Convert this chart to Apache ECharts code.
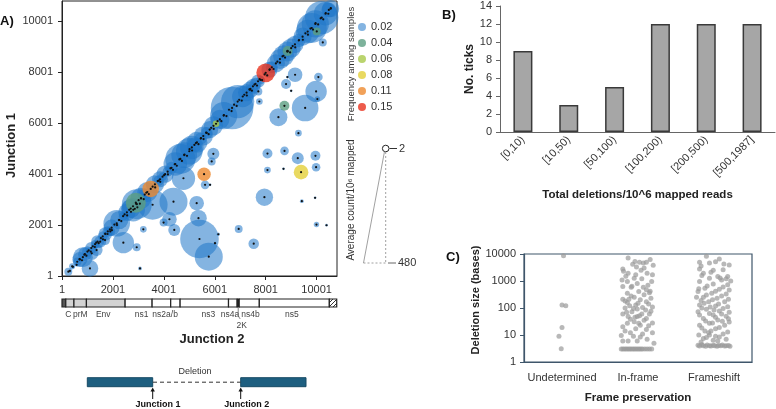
<!DOCTYPE html>
<html><head><meta charset="utf-8">
<script src="https://cdn.jsdelivr.net/npm/echarts@6/dist/echarts.min.js"></script>
<style>html,body{margin:0;padding:0;background:#fff}#c{width:776px;height:409px}</style>
</head><body><div id="c"></div>
<script>
// ---------- Panel A data ----------
const FREQS = ['0.02','0.04','0.06','0.08','0.11','0.15'];
const FREQ_COLORS = ['#1f77c9','#5c9f82','#a9c94a','#e3cf3a','#ee8a30','#e8321e'];
// [junction 2, junction 1, average count / 10^6 mapped, frequency class index]
const DELETIONS = [
 [250,170,17,0],[820,740,108,0],[1100,300,75,0],[1170,890,49,0],[1360,1020,39,0],[1500,1350,39,0],
 [1690,1410,27,0],[2150,2070,192,0],[2410,1310,124,0],[2935,1130,17,0],[3195,1835,12,0],[3065,300,4,0],
 [2940,2820,244,0],[3560,2800,244,0],[2800,2600,148,0],[1900,1750,25,0],[4380,2920,213,0],[4220,2230,58,0],
 [3990,2100,17,0],[4410,1810,39,0],[5290,2860,58,0],[5360,2270,75,0],[5400,1455,404,0],[5765,760,213,0],
 [6140,1640,3,0],[6010,1290,2,0],[6940,1850,17,0],[7530,1270,30,0],[5880,4500,17,0],[5945,4800,39,0],
 [5620,3580,20,0],[5815,3580,2,0],[4770,3840,148,0],[7950,3095,82,0],[8070,4810,27,0],[8070,4160,12,0],
 [8740,4915,20,0],[8700,4210,2,0],[9260,4630,39,0],[9955,4720,27,0],[9980,4275,20,0],[9420,2940,4,0],
 [9940,3070,2,0],[9995,2020,8,0],[10390,1995,2,0],[9155,7904,58,0],[8853,7814,2,0],[10070,7814,20,0],
 [8800,7540,27,0],[9000,7275,2,0],[9980,7250,124,0],[10030,6950,8,0],[9550,6600,192,0],[8500,6240,88,0],
 [9286,5610,12,0],[7713,7248,17,0],[7752,6854,12,0],[7387,7315,75,0],[6680,6600,492,0],[6200,6150,100,0],
 [7100,7050,124,0],[5685,5620,39,0],[5450,5400,39,0],[5200,5150,60,0],[5000,4900,192,0],[4650,4600,244,0],
 [4150,4100,27,0],[4300,4250,40,0],[3250,3200,40,0],[3800,3750,30,0],[3950,3900,20,0],[2400,2350,20,0],
 [1800,1750,30,0],[1600,1560,25,0],[1300,1250,20,0],[1000,960,30,0],[600,560,20,0],[400,380,10,0],
 [7600,7550,39,0],[8240,8200,39,0],[8560,8520,108,0],[8850,8820,108,0],[9300,9250,49,0],[9810,9740,244,0],
 [10200,10150,302,0],[10480,10450,60,0],[10243,9174,17,0],[7400,7350,20,0],[7800,7700,20,0],
 [700,650,60,0],[900,860,50,0],[1150,1100,40,0],[1400,1350,45,0],[1700,1650,50,0],[1950,1900,70,0],
 [2250,2200,90,0],[2550,2500,80,0],[2700,2650,100,0],[3100,3050,120,0],[3350,3300,110,0],[3650,3600,90,0],
 [3850,3800,70,0],[4050,4000,80,0],[4450,4400,150,0],[4800,4750,180,0],[5100,5050,150,0],[5300,5250,120,0],
 [5550,5500,100,0],[5800,5750,80,0],[5950,5900,100,0],[6350,6300,200,0],[6900,6850,300,0],[7250,7200,80,0],
 [7500,7450,60,0],[7700,7650,50,0],[8150,8100,70,0],[8400,8350,90,0],[8700,8650,120,0],[9000,8950,100,0],
 [9150,9100,80,0],[9450,9400,90,0],[9650,9600,150,0],[9950,9900,200,0],[10350,10300,150,0],[10550,10500,80,0],
 [2900,2880,108,1],[8860,8840,27,1],[10006,9607,17,1],[8736,6685,27,1],
 [6050,5980,12,2],
 [9390,4080,58,3],
 [3485,3420,75,4],[5580,4000,49,4],
 [8000,7980,95,5]
];
// small deletions close to the diagonal: [junction 2, junction 1, count, class]
const SMALL_DELETIONS = [
 [310,200,3,0],[430,360,3,0],[575,440,3,0],[690,660,3,0],[785,620,3,0],[880,840,3,0],[960,800,3,0],
 [1050,1010,3,0],[1130,960,3,0],[1210,1170,3,0],[1290,1140,3,0],[1345,1310,3,0],[1440,1290,3,0],
 [1530,1490,3,0],[1610,1440,3,0],[1700,1670,3,0],[1790,1650,3,0],[1880,1830,3,0],[1960,1800,3,0],
 [2060,2020,3,0],[2160,2000,3,0],[2240,2200,3,0],[2330,2160,3,0],[2460,2420,3,0],[2560,2380,3,0],
 [2640,2600,3,0],[2710,2520,3,0],[2790,2740,3,0],[2860,2640,3,0],[2910,2840,3,0],[2960,2700,3,0],
 [3010,2980,3,0],[3060,2840,3,0],[3110,3050,3,0],[3210,3020,3,0],[3310,3270,3,0],[3410,3220,3,0],
 [3560,3510,3,0],[3660,3480,3,0],[3760,3730,3,0],[3860,3700,3,0],[4010,3960,3,0],[4160,3990,3,0],
 [4260,4230,3,0],[4360,4170,3,0],[4430,4390,3,0],[4510,4330,3,0],[4610,4580,3,0],[4710,4520,3,0],
 [4810,4770,3,0],[4910,4720,3,0],[5010,4980,3,0],[5110,4930,3,0],[5260,5220,3,0],[5360,5180,3,0],
 [5460,5420,3,0],[5560,5380,3,0],[5660,5630,3,0],[5760,5570,3,0],[5860,5820,3,0],[5960,5780,3,0],
 [6110,6080,3,0],[6260,6080,3,0],[6360,6320,3,0],[6460,6280,3,0],[6560,6530,3,0],[6660,6480,3,0],
 [6760,6730,3,0],[6860,6680,3,0],[6960,6920,3,0],[7060,6890,3,0],[7160,7120,3,0],[7260,7090,3,0],
 [7360,7330,3,0],[7460,7280,3,0],[7560,7520,3,0],[7660,7480,3,0],[7760,7730,3,0],[7860,7690,3,0],
 [7960,7920,3,0],[8060,7880,3,0],[8160,8120,3,0],[8310,8130,3,0],[8460,8420,3,0],[8560,8380,3,0],
 [8660,8630,3,0],[8760,8580,3,0],[8860,8820,3,0],[8960,8780,3,0],[9060,9030,3,0],[9160,8980,3,0],
 [9310,9270,3,0],[9460,9280,3,0],[9560,9530,3,0],[9660,9480,3,0],[9760,9720,3,0],[9860,9680,3,0],
 [9960,9930,3,0],[10060,9880,3,0],[10160,10120,3,0],[10260,10080,3,0],[10360,10330,3,0],
 [10460,10300,3,0],[10560,10520,3,0]
];
// genome map (position along genome)
const GENE_NAMES = ['5UTR','C','prM','Env','ns1','ns2a','ns2b','ns3','ns4a','2K','ns4b','ns5','3UTR'];
const GENE_START = [1,150,470,960,2480,3540,4270,4640,6540,6880,6960,7750,10500];
const GENE_END   = [150,470,960,2480,3540,4270,4640,6540,6880,6960,7750,10500,10790];
const GENE_KIND  = ['utr5','struct','struct','struct','ns','ns','ns','ns','ns','2k','ns','ns','utr3'];
const GENE_LABELS = ['C','prM','Env','ns1','ns2a/b','ns3','ns4a','ns4b','ns5','2K'];
const GENE_LABEL_AT = [250,720,1620,3130,4050,5750,6600,7400,9030,7060];
const GENE_LABEL_ROW = [0,0,0,0,0,0,0,0,0,1];
const SIZE_LEGEND = [2, 480];

// ---------- Panel B data ----------
const BIN_LABELS = ['[0,10)','[10,50)','[50,100)','[100,200)','[200,500)','[500,1987]'];
const TICK_COUNTS = [9,3,5,12,12,12];

// ---------- Panel C data ----------
const FRAME_CATS = ['Undetermined','In-frame','Frameshift'];
// [jitter position, deletion size]
const UNDET_PTS = [[0.52,8700],[0.50,129],[0.55,122],[0.50,19],[0.46,9],[0.49,3.1]];
const INFRAME_PTS = [
 [1.37,7100],[1.46,5300],[1.52,4900],[1.57,4600],[1.61,5000],[1.66,6200],[1.30,2800],[1.31,2300],[1.37,1950],
 [1.47,1700],[1.58,3000],[1.62,1950],[1.69,1700],[1.45,1270],[1.36,960],[1.68,960],[1.30,620],[1.41,590],
 [1.57,590],[1.61,470],[1.51,410],[1.36,350],[1.65,370],[1.45,250],[1.67,230],[1.30,210],[1.53,200],[1.36,160],
 [1.61,170],[1.47,130],[1.69,110],[1.33,100],[1.49,92],[1.60,84],[1.42,73],[1.30,60],[1.55,60],[1.65,60],
 [1.37,48],[1.49,48],[1.61,41],[1.45,31],[1.69,28],[1.36,27],[1.53,23],[1.30,20],[1.47,17],[1.61,16],[1.40,12],
 [1.69,12],[1.53,8.5],[1.30,6],[1.49,6],[1.37,6],
 [1.43,4200],[1.70,3800],[1.34,1500],[1.55,1200],[1.49,800],[1.63,700],[1.41,280],[1.58,310],[1.33,180],
 [1.50,150],[1.64,140],[1.39,120],[1.56,105],[1.44,95],[1.67,75],[1.35,70],[1.52,52],[1.58,35],[1.40,38],
 [1.64,22],[1.33,14],[1.56,11],[1.44,9],[1.62,7],[1.28,9.5],[1.71,5],[1.46,45],[1.51,27],[1.38,210],[1.66,420],
 [1.29,1100],[1.54,2500],[1.48,3300],[1.42,640],
 [1.28,3],[1.30,3],[1.32,3],[1.34,3],[1.36,3],[1.38,3],[1.40,3],[1.42,3],[1.44,3],[1.46,3],[1.48,3],[1.50,3],
 [1.52,3],[1.54,3],[1.56,3],[1.59,3],[1.62,3],[1.65,3],[1.68,3]
];
const FRAMESHIFT_PTS = [
 [2.40,8200],[2.57,6500],[2.31,4900],[2.44,4600],[2.63,4300],[2.31,2800],[2.49,2500],[2.62,2600],[2.36,1950],
 [2.55,1480],[2.68,1480],[2.44,1270],[2.60,1100],[2.31,960],[2.49,780],[2.68,720],[2.38,540],[2.57,500],
 [2.29,410],[2.47,350],[2.66,330],[2.36,250],[2.54,230],[2.43,170],[2.64,170],[2.31,130],[2.52,118],[2.68,112],
 [2.40,89],[2.57,77],[2.29,73],[2.49,55],[2.66,50],[2.36,41],[2.55,36],[2.44,27],[2.31,23],[2.64,23],[2.52,17],
 [2.38,14],[2.68,13],[2.44,10],[2.57,8.5],[2.36,7.4],[2.49,6.4],
 [2.33,3600],[2.52,5200],[2.70,3900],[2.46,2100],[2.66,1200],[2.34,1600],[2.58,1300],[2.41,650],[2.62,600],
 [2.30,520],[2.52,420],[2.70,460],[2.40,300],[2.60,280],[2.33,190],[2.48,200],[2.69,210],[2.37,150],[2.56,140],
 [2.45,110],[2.62,95],[2.34,100],[2.50,85],[2.70,70],[2.44,62],[2.60,60],[2.31,55],[2.52,45],[2.39,33],
 [2.61,32],[2.48,28],[2.70,30],[2.34,18],[2.57,19],[2.46,14],[2.62,11],[2.30,10],[2.52,9],[2.40,8],[2.66,7],
 [2.55,6],[2.33,5.5],[2.43,12],[2.69,40],[2.27,250],[2.72,1000],
 [2.29,4.2],[2.31,3.9],[2.34,4.4],[2.36,4],[2.39,3.8],[2.41,4.3],[2.44,4],[2.46,3.9],[2.49,4.2],[2.51,4],
 [2.54,3.8],[2.56,4.1],[2.59,4],[2.61,4.3],[2.64,3.9],[2.66,4],[2.69,4.1],[2.71,3.8]
];

// ---------- build ----------
const FONT = "'Liberation Sans', Arial, sans-serif";
const chart = echarts.init(document.getElementById('c'), null, {renderer:'canvas'});
const ALL = DELETIONS.concat(SMALL_DELETIONS);
const bubbleSize = v => Math.max(2.5, 1.92 * Math.sqrt(v[2]));

const hatch = document.createElement('canvas');
hatch.width = 4; hatch.height = 4;
(function(){const g = hatch.getContext('2d'); g.fillStyle='#fff'; g.fillRect(0,0,4,4);
 g.strokeStyle='#333'; g.lineWidth=1; g.beginPath(); g.moveTo(0,4); g.lineTo(4,0); g.moveTo(-1,1); g.lineTo(1,-1); g.moveTo(3,5); g.lineTo(5,3); g.stroke();})();

const KIND_FILL = {utr5:'#555', struct:'#d3d3d3', ns:'#ffffff', '2k':'#222', utr3:{image:hatch, repeat:'repeat'}};

const bubbleSeries = FREQS.map((f, i) => ({
  type:'scatter', name:f, xAxisIndex:0, yAxisIndex:0,
  data: ALL.filter(d => d[3] === i).sort((a,b)=>b[2]-a[2]).map(d => [d[0]-1, d[1]-1, d[2]]),
  symbolSize: bubbleSize,
  itemStyle:{color:FREQ_COLORS[i], opacity: i===0 ? 0.55 : 0.8},
  emphasis:{disabled:true}
}));

const tickFmt = v => (v % 2000 === 0 ? String(v + 1) : '');
const axisTxt = {fontFamily:FONT, fontSize:11, color:'#333'};

const option = {
  animation:false,
  textStyle:{fontFamily:FONT},
  grid:[
    {left:62, top:1, width:275, height:275, show:true, borderColor:'#222', borderWidth:1},
    {left:62, top:299, width:275, height:8},
    {left:500, top:6, width:275, height:126},
    {left:524, top:254, width:228, height:108, show:true, borderColor:'#3f566b', borderWidth:1.2}
  ],
  xAxis:[
    {gridIndex:0, type:'value', min:0, max:10800, interval:2000,
     axisLine:{lineStyle:{color:'#222'}}, axisTick:{length:4, lineStyle:{color:'#222'}},
     axisLabel:Object.assign({formatter:tickFmt, margin:8, showMaxLabel:false}, axisTxt), splitLine:{show:false},
     name:'Junction 2', nameLocation:'middle', nameGap:57,
     nameTextStyle:{fontFamily:FONT, fontSize:13, fontWeight:'bold', color:'#222', padding:[0,0,0,25]}},
    {gridIndex:1, type:'value', min:0, max:10800, show:false},
    {gridIndex:2, type:'category', data:BIN_LABELS,
     axisLine:{lineStyle:{color:'#666'}}, axisTick:{length:4, lineStyle:{color:'#666'}},
     axisLabel:Object.assign({rotate:45, margin:6, interval:0}, axisTxt),
     name:'Total deletions/10^6 mapped reads', nameLocation:'middle', nameGap:57,
     nameTextStyle:{fontFamily:FONT, fontSize:11.5, fontWeight:'bold', color:'#222'}},
    {gridIndex:3, type:'category', data:FRAME_CATS,
     axisLine:{lineStyle:{color:'#3f566b', width:1.2}}, axisTick:{length:4, lineStyle:{color:'#3f566b'}},
     axisLabel:Object.assign({margin:10, interval:0}, axisTxt),
     name:'Frame preservation', nameLocation:'middle', nameGap:30,
     nameTextStyle:{fontFamily:FONT, fontSize:11.5, fontWeight:'bold', color:'#222'}},
    {gridIndex:3, type:'value', min:0, max:3, show:false}
  ],
  yAxis:[
    {gridIndex:0, type:'value', min:0, max:10800, interval:2000,
     axisLine:{show:true, lineStyle:{color:'#222'}}, axisTick:{show:true, length:4, lineStyle:{color:'#222'}},
     axisLabel:Object.assign({formatter:tickFmt, margin:9, showMaxLabel:false}, axisTxt), splitLine:{show:false},
     name:'Junction 1', nameLocation:'middle', nameGap:44,
     nameTextStyle:{fontFamily:FONT, fontSize:13, fontWeight:'bold', color:'#222', padding:[0,14,0,0]}},
    {gridIndex:1, type:'value', min:0, max:1, show:false},
    {gridIndex:2, type:'value', min:0, max:14, interval:2,
     axisLine:{show:true, lineStyle:{color:'#666'}}, axisTick:{show:true, length:4, lineStyle:{color:'#666'}},
     axisLabel:Object.assign({margin:8}, axisTxt), splitLine:{show:false},
     name:'No. ticks', nameLocation:'middle', nameGap:24,
     nameTextStyle:{fontFamily:FONT, fontSize:12, fontWeight:'bold', color:'#222'}},
    {gridIndex:3, type:'log', logBase:10, min:1, max:10000,
     axisLine:{show:true, lineStyle:{color:'#3f566b', width:1.2}}, axisTick:{show:true, length:4, lineStyle:{color:'#3f566b'}},
     axisLabel:Object.assign({margin:8, formatter:v => String(Math.round(v))}, axisTxt), splitLine:{show:false}, minorTick:{show:false},
     name:'Deletion size (bases)', nameLocation:'middle', nameGap:32,
     nameTextStyle:{fontFamily:FONT, fontSize:11, fontWeight:'bold', color:'#222', padding:[0,0,0,16]}}
  ],
  legend:{data:FREQS, orient:'vertical', left:353, top:16, itemWidth:8, itemHeight:8, itemGap:4,
    icon:'circle', selectedMode:false,
    textStyle:{fontFamily:FONT, fontSize:11, color:'#333', lineHeight:12}},
  series: bubbleSeries.concat([
    {type:'scatter', name:'centre', xAxisIndex:0, yAxisIndex:0, silent:true, z:3,
     data: ALL.map(d => [d[0]-1, d[1]-1]), symbolSize:2.2, itemStyle:{color:'#111', opacity:1}},
    {type:'custom', xAxisIndex:1, yAxisIndex:1, silent:true,
     data: GENE_NAMES.map((n,i) => [GENE_START[i]-1, GENE_END[i]-1, i]),
     renderItem:(params, api) => {
       const a = api.coord([api.value(0), 1]);
       const b = api.coord([api.value(1), 0]);
       const k = GENE_KIND[api.value(2)];
       return {type:'rect', shape:{x:a[0], y:a[1], width:b[0]-a[0], height:b[1]-a[1]},
         style:{fill:KIND_FILL[k], stroke:'#222', lineWidth:1.2}};
     }},
    {type:'custom', xAxisIndex:1, yAxisIndex:1, silent:true,
     data: GENE_LABELS.map((n,i) => [GENE_LABEL_AT[i]-1, GENE_LABEL_ROW[i], i]),
     renderItem:(params, api) => {
       const p = api.coord([api.value(0), 0]);
       const row = api.value(1);
       const children = [{type:'text', x:p[0], y:p[1] + 8 + row*11,
         style:{text:GENE_LABELS[api.value(2)], align:'center', verticalAlign:'middle',
           fontFamily:FONT, fontSize:8.5, fill:'#444'}}];
       if (row === 1) {
         const q = api.coord([6920, 0]);
         children.push({type:'polyline', shape:{points:[[q[0], q[1]+1],[q[0], q[1]+9],[q[0]+2, q[1]+12]]},
           style:{stroke:'#666', lineWidth:0.8, fill:null}});
       }
       return {type:'group', children};
     }},
    {type:'bar', xAxisIndex:2, yAxisIndex:2, data:TICK_COUNTS, barWidth:19,
     itemStyle:{color:'#a6a6a6', borderColor:'#3a3a3a', borderWidth:1.5}},
    {type:'scatter', xAxisIndex:4, yAxisIndex:3, data:UNDET_PTS, symbolSize:5,
     itemStyle:{color:'#9a9a9a', opacity:0.7}},
    {type:'scatter', xAxisIndex:4, yAxisIndex:3, data:INFRAME_PTS, symbolSize:5,
     itemStyle:{color:'#9a9a9a', opacity:0.7}},
    {type:'scatter', xAxisIndex:4, yAxisIndex:3, data:FRAMESHIFT_PTS, symbolSize:5,
     itemStyle:{color:'#9a9a9a', opacity:0.7}}
  ]),
  graphic:[
    {type:'text', left:0, top:15, style:{text:'A)', fontFamily:FONT, fontSize:13, fontWeight:'bold', fill:'#111'}},
    {type:'text', left:442, top:9, style:{text:'B)', fontFamily:FONT, fontSize:13, fontWeight:'bold', fill:'#111'}},
    {type:'text', left:446, top:251, style:{text:'C)', fontFamily:FONT, fontSize:13, fontWeight:'bold', fill:'#111'}},
    {type:'text', x:351, y:64, rotation:Math.PI/2,
     style:{text:'Frequency among samples', align:'center', verticalAlign:'middle', fontFamily:FONT, fontSize:9.5, fill:'#333'}},
    {type:'text', x:351, y:200, rotation:Math.PI/2,
     style:{text:'Average count/10\u2076 mapped', align:'center', verticalAlign:'middle', fontFamily:FONT, fontSize:10, fill:'#333'}},
    {type:'circle', shape:{cx:385.7, cy:148.5, r:3.3}, style:{fill:'#fff', stroke:'#222', lineWidth:1}},
    {type:'line', shape:{x1:389.5, y1:148.5, x2:397, y2:148.5}, style:{stroke:'#333', lineWidth:1}},
    {type:'text', x:399, y:148.5, style:{text:String(SIZE_LEGEND[0]), verticalAlign:'middle', fontFamily:FONT, fontSize:11, fill:'#333'}},
    {type:'line', shape:{x1:384.5, y1:151.5, x2:363.5, y2:263}, style:{stroke:'#888', lineWidth:0.8}},
    {type:'line', shape:{x1:363.5, y1:263, x2:385.7, y2:263}, style:{stroke:'#888', lineWidth:0.8, lineDash:[2,2]}},
    {type:'line', shape:{x1:385.7, y1:152, x2:385.7, y2:263}, style:{stroke:'#888', lineWidth:0.8, lineDash:[2,2]}},
    {type:'line', shape:{x1:388, y1:263, x2:396, y2:263}, style:{stroke:'#666', lineWidth:1}},
    {type:'text', x:398, y:263, style:{text:String(SIZE_LEGEND[1]), verticalAlign:'middle', fontFamily:FONT, fontSize:11, fill:'#333'}},
    // deletion schematic
    {type:'rect', shape:{x:87.3, y:377.7, width:65.4, height:9}, style:{fill:'#1e5f80', stroke:'#174a64', lineWidth:1}},
    {type:'rect', shape:{x:240.7, y:377.7, width:65.3, height:9}, style:{fill:'#1e5f80', stroke:'#174a64', lineWidth:1}},
    {type:'line', shape:{x1:153, y1:382.2, x2:240.5, y2:382.2}, style:{stroke:'#333', lineWidth:1, lineDash:[4,3]}},
    {type:'text', x:195, y:372, style:{text:'Deletion', align:'center', verticalAlign:'middle', fontFamily:FONT, fontSize:9, fill:'#333'}},
    {type:'line', shape:{x1:152.7, y1:399, x2:152.7, y2:390}, style:{stroke:'#111', lineWidth:1}},
    {type:'polygon', shape:{points:[[150.5,391.5],[154.9,391.5],[152.7,387.5]]}, style:{fill:'#111'}},
    {type:'line', shape:{x1:240.7, y1:399, x2:240.7, y2:390}, style:{stroke:'#111', lineWidth:1}},
    {type:'polygon', shape:{points:[[238.5,391.5],[242.9,391.5],[240.7,387.5]]}, style:{fill:'#111'}},
    {type:'text', x:158, y:405, style:{text:'Junction 1', align:'center', verticalAlign:'middle', fontFamily:FONT, fontSize:9, fontWeight:'bold', fill:'#111'}},
    {type:'text', x:246.7, y:405, style:{text:'Junction 2', align:'center', verticalAlign:'middle', fontFamily:FONT, fontSize:9, fontWeight:'bold', fill:'#111'}}
  ]
};
chart.setOption(option);
</script></body></html>
